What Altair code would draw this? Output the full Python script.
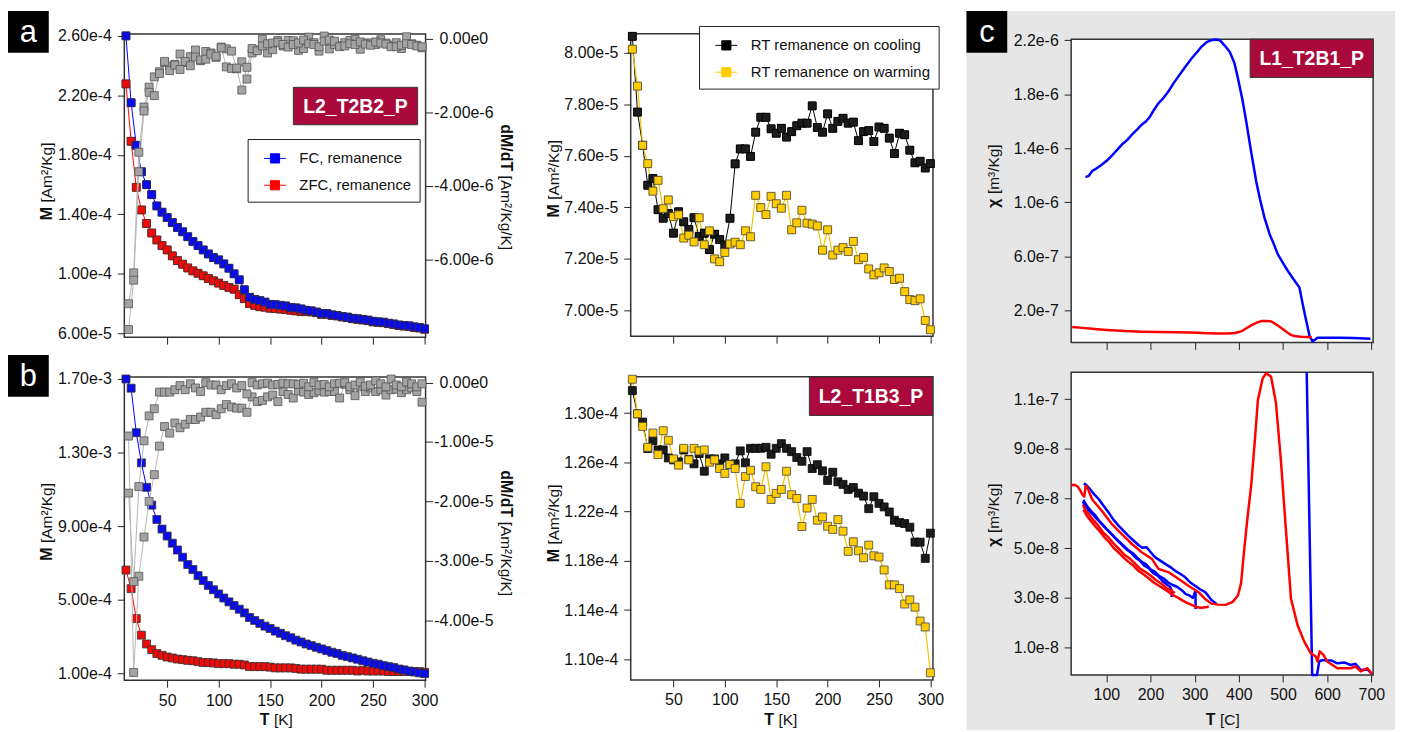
import altair as alt
import pandas as pd

FONT = "Liberation Sans, Arial, sans-serif"
FONT_W = "Liberation Sans, Arial, sans-serif"
FS = 16
FS_LEG = 15

# ---------------- data ----------------
T_K = [10, 15, 20, 25, 30, 35, 40, 45, 50, 55, 60, 65, 70, 75, 80, 85, 90, 95, 100, 105,
       110, 115, 120, 125, 130, 135, 140, 145, 150, 155, 160, 165, 170, 175, 180, 185, 190, 195, 200, 205,
       210, 215, 220, 225, 230, 235, 240, 245, 250, 255, 260, 265, 270, 275, 280, 285, 290, 295, 300]
T_D = [12.5, 17.5, 22.5, 27.5, 32.5, 37.5, 42.5, 47.5, 52.5, 57.5, 62.5, 67.5, 72.5, 77.5, 82.5, 87.5,
       92.5, 97.5, 102.5, 107.5, 112.5, 117.5, 122.5, 127.5, 132.5, 137.5, 142.5, 147.5, 152.5, 157.5,
       162.5, 167.5, 172.5, 177.5, 182.5, 187.5, 192.5, 197.5, 202.5, 207.5, 212.5, 217.5, 222.5, 227.5,
       232.5, 237.5, 242.5, 247.5, 252.5, 257.5, 262.5, 267.5, 272.5, 277.5, 282.5, 287.5, 292.5, 297.5]

# panel a  (M in 1e-4 Am2/kg, dM/dT in 1e-6)
A_FC = [2.60, 2.15, 1.864, 1.686, 1.599, 1.532, 1.456, 1.414, 1.378, 1.344, 1.311, 1.282, 1.249, 1.217, 1.189,
        1.160, 1.133, 1.108, 1.093, 1.066, 1.037, 0.999, 0.959, 0.892, 0.841, 0.827, 0.819, 0.809, 0.794, 0.792,
        0.787, 0.783, 0.772, 0.770, 0.763, 0.754, 0.750, 0.742, 0.732, 0.732, 0.723, 0.719, 0.712, 0.708, 0.700,
        0.697, 0.692, 0.688, 0.680, 0.676, 0.674, 0.667, 0.662, 0.655, 0.651, 0.649, 0.642, 0.638, 0.629]
A_ZFC = [2.277, 1.891, 1.581, 1.429, 1.338, 1.274, 1.227, 1.189, 1.160, 1.120, 1.088, 1.064, 1.039, 1.019, 1.003,
         0.986, 0.968, 0.952, 0.937, 0.921, 0.908, 0.896, 0.859, 0.832, 0.799, 0.787, 0.778, 0.775, 0.768, 0.766,
         0.762, 0.760, 0.754, 0.750, 0.745, 0.745, 0.743, 0.738, 0.727, 0.728, 0.720, 0.716, 0.709, 0.705, 0.697,
         0.693, 0.689, 0.684, 0.676, 0.673, 0.670, 0.664, 0.659, 0.652, 0.648, 0.646, 0.639, 0.635, 0.627]
A_D1 = [-7.21, -6.37, -3.09, -1.86, -1.32, -1.04, -0.90, -0.65, -0.75, -0.70, -0.42, -0.65, -0.49, -0.31, -0.60,
        -0.35, -0.39, -0.51, -0.23, -0.28, -0.34, -0.82, -0.63, -1.10, -0.39, -0.31, -0.02, -0.39, -0.30, -0.05,
        -0.20, -0.05, -0.06, -0.32, -0.27, 0.04, -0.11, -0.34, 0.07, -0.28, -0.16, -0.19, -0.11, -0.05, -0.02,
        -0.29, -0.12, -0.12, -0.16, -0.03, -0.12, -0.18, -0.11, -0.27, 0.05, -0.14, -0.18, -0.25]
A_D2 = [-7.91, -6.57, -3.62, -1.97, -1.46, -1.55, -0.95, -0.62, -0.87, -0.72, -0.84, -0.62, -0.74, -0.50, -0.58,
        -0.56, -0.42, -0.48, -0.25, -0.77, -0.81, -0.80, -1.40, -0.78, -0.27, -0.33, -0.20, -0.14, -0.12, -0.10,
        -0.16, -0.23, -0.16, -0.12, -0.04, -0.14, -0.16, -0.22, -0.07, -0.04, -0.07, -0.22, -0.20, -0.14, -0.16,
        -0.09, -0.15, -0.18, -0.09, -0.12, -0.15, -0.22, -0.22, -0.18, -0.14, -0.16, -0.20, -0.22]

# panel b  (M in 1e-4, dM/dT in 1e-5)
B_FC = [17.0, 16.50, 14.08, 12.44, 11.11, 10.14, 9.36, 8.84, 8.46, 8.07, 7.70, 7.31, 6.91, 6.64, 6.31, 6.04,
        5.77, 5.54, 5.31, 5.09, 4.88, 4.68, 4.48, 4.28, 4.03, 3.87, 3.71, 3.56, 3.43, 3.29, 3.17, 3.04, 2.93,
        2.80, 2.70, 2.59, 2.50, 2.41, 2.32, 2.23, 2.14, 2.07, 1.97, 1.90, 1.83, 1.76, 1.68, 1.61, 1.54, 1.49,
        1.41, 1.36, 1.31, 1.23, 1.18, 1.12, 1.07, 1.02, 0.98]
B_ZFC = [6.61, 5.60, 3.97, 3.07, 2.59, 2.28, 2.07, 1.97, 1.88, 1.83, 1.77, 1.74, 1.70, 1.68, 1.63, 1.58, 1.58,
         1.56, 1.52, 1.52, 1.52, 1.49, 1.49, 1.45, 1.36, 1.36, 1.36, 1.36, 1.33, 1.29, 1.29, 1.29, 1.29, 1.26,
         1.22, 1.22, 1.22, 1.22, 1.22, 1.16, 1.16, 1.16, 1.16, 1.16, 1.16, 1.12, 1.16, 1.12, 1.12, 1.12, 1.12,
         1.09, 1.09, 1.09, 1.09, 1.09, 1.09, 1.09, 1.05]
B_D1 = [-0.90, -4.88, -3.26, -2.60, -2.00, -1.55, -1.07, -0.74, -0.85, -0.68, -0.76, -0.70, -0.62, -0.62, -0.58,
        -0.50, -0.50, -0.54, -0.44, -0.37, -0.41, -0.43, -0.43, -0.50, -0.24, -0.32, -0.30, -0.24, -0.21, -0.32,
        -0.15, -0.20, -0.26, -0.14, -0.16, -0.20, -0.17, -0.14, -0.16, -0.15, -0.15, -0.26, -0.03, -0.12, -0.22,
        -0.07, -0.15, -0.09, -0.15, -0.12, -0.21, -0.12, -0.11, -0.17, -0.12, -0.09, -0.15, -0.33]
B_D2 = [-1.86, -3.35, -1.75, -0.98, -0.56, -0.44, -0.16, -0.16, -0.16, -0.12, -0.05, -0.12, -0.02, -0.09, -0.15,
        0.00, -0.04, -0.04, -0.12, -0.05, -0.02, -0.09, -0.05, -0.19, 0.00, -0.04, -0.02, -0.01, -0.04, -0.03,
        -0.01, -0.02, -0.02, -0.03, -0.01, -0.07, 0.00, -0.04, -0.03, -0.07, -0.02, -0.01, 0.00, -0.07, -0.04,
        0.01, -0.06, -0.04, 0.03, -0.02, -0.07, 0.06, -0.04, -0.07, 0.01, -0.02, -0.07, -0.02]

# middle top (1e-5) and middle bottom (1e-4)
MT_COOL = [8.064, 7.770, 7.641, 7.486, 7.512, 7.391, 7.358, 7.376, 7.300, 7.383, 7.344, 7.314, 7.360, 7.287,
           7.300, 7.236, 7.296, 7.275, 7.254, 7.358, 7.569, 7.627, 7.627, 7.598, 7.692, 7.750, 7.750, 7.705,
           7.688, 7.707, 7.673, 7.694, 7.717, 7.727, 7.727, 7.794, 7.710, 7.692, 7.763, 7.707, 7.734, 7.746,
           7.727, 7.731, 7.659, 7.694, 7.698, 7.656, 7.712, 7.707, 7.669, 7.609, 7.688, 7.682, 7.622, 7.573,
           7.579, 7.553, 7.570]
MT_WARM = [8.014, 7.871, 7.641, 7.570, 7.463, 7.505, 7.395, 7.429, 7.364, 7.371, 7.281, 7.292, 7.266, 7.360,
           7.255, 7.309, 7.200, 7.189, 7.225, 7.258, 7.265, 7.255, 7.309, 7.286, 7.447, 7.399, 7.372, 7.443,
           7.414, 7.397, 7.447, 7.313, 7.340, 7.389, 7.339, 7.335, 7.328, 7.234, 7.313, 7.215, 7.234, 7.244,
           7.229, 7.268, 7.197, 7.206, 7.161, 7.138, 7.146, 7.165, 7.151, 7.120, 7.125, 7.073, 7.042, 7.038,
           7.045, 6.961, 6.925]
MB_COOL = [1.3183, 1.2994, 1.2927, 1.2712, 1.2776, 1.2701, 1.2701, 1.2636, 1.2620, 1.2604, 1.2701, 1.2624,
           1.2588, 1.2671, 1.2528, 1.2628, 1.2628, 1.2588, 1.2636, 1.2581, 1.2588, 1.2693, 1.2596, 1.2714,
           1.2714, 1.2714, 1.2722, 1.2666, 1.2714, 1.2752, 1.2714, 1.2687, 1.2639, 1.2609, 1.2687, 1.2550,
           1.2581, 1.2531, 1.2453, 1.2520, 1.2442, 1.2421, 1.2380, 1.2396, 1.2350, 1.2326, 1.2224, 1.2321,
           1.2267, 1.2238, 1.2197, 1.2130, 1.2111, 1.2103, 1.2073, 1.1952, 1.1952, 1.1820, 1.2025]
MB_WARM = [1.3275, 1.2994, 1.2892, 1.2722, 1.2838, 1.2663, 1.2857, 1.2779, 1.2628, 1.2577, 1.2714, 1.2620,
           1.2714, 1.2693, 1.2701, 1.2601, 1.2620, 1.2550, 1.2510, 1.2582, 1.2550, 1.2267, 1.2485, 1.2536,
           1.2402, 1.2380, 1.2564, 1.2299, 1.2348, 1.2380, 1.2528, 1.2337, 1.2307, 1.2079, 1.2229, 1.2299,
           1.2130, 1.2157, 1.2081, 1.2055, 1.2135, 1.2041, 1.1877, 1.1955, 1.1882, 1.1825, 1.1928, 1.1841,
           1.1831, 1.1726, 1.1605, 1.1605, 1.1575, 1.1449, 1.1483, 1.1424, 1.1311, 1.1263, 1.0891]

# panel c top (chi in 1e-7)
CT_BLUE_T = [52.7, 60, 67.6, 80, 90, 100, 112.6, 125, 135, 147, 157.7, 170, 180, 190, 199, 208, 218, 230, 240.3,
             252, 262.8, 278, 292.8, 305, 315.3, 327, 337.9, 347, 356.8, 368, 379.3, 390, 398, 408, 416.7, 428,
             439.2, 448, 458, 470, 478, 488, 500, 510.6, 525, 537, 544.4, 550, 555.6, 560, 566.9, 578, 600, 630,
             660, 698]
CT_BLUE_X = [11.86, 11.95, 12.30, 12.55, 12.79, 13.05, 13.46, 13.90, 14.27, 14.60, 15.00, 15.40, 15.74, 16.00,
             16.35, 16.85, 17.33, 17.75, 18.19, 18.80, 19.30, 20.00, 20.64, 21.10, 21.51, 21.85, 22.00, 22.05,
             22.00, 21.60, 21.14, 20.30, 19.17, 17.60, 15.98, 13.70, 11.56, 10.20, 8.86, 7.60, 7.00, 6.16, 5.50,
             4.93, 4.25, 3.70, 2.48, 1.60, 0.76, 0.10, -0.30, -0.03, -0.03, -0.03, -0.05, -0.10]
CT_RED_T = [22.6, 45, 67.6, 100, 142.8, 180, 217.9, 255, 293, 330, 353, 375, 390.6, 398, 405.6, 416, 428, 440,
            450.6, 462, 473, 480, 488, 500, 510.6, 518, 525.7, 540, 555.6, 565]
CT_RED_X = [0.76, 0.70, 0.64, 0.55, 0.46, 0.42, 0.39, 0.37, 0.35, 0.30, 0.28, 0.29, 0.32, 0.38, 0.44, 0.65, 0.88,
            1.08, 1.20, 1.21, 1.18, 1.05, 0.88, 0.60, 0.34, 0.18, 0.09, 0.04, 0.02, -0.02]

# panel c bottom (chi in 1e-8)
CB_RED_MAIN_T = [20.3, 28, 34, 40, 46, 50, 53, 57, 67.6, 90, 112.6, 135, 158, 180, 203, 218, 240, 263, 285, 308,
                 323, 338, 353, 370, 386, 398, 405, 413, 420, 428, 436, 443, 454, 462, 473, 484, 495, 507, 518,
                 533, 548, 563, 574, 578, 583, 592, 600, 623, 653, 664, 676, 691, 702]
CB_RED_MAIN_X = [7.53, 7.55, 7.50, 7.35, 7.15, 7.08, 7.50, 7.45, 6.97, 6.50, 5.97, 5.57, 5.17, 4.84, 4.57, 4.17,
                 4.04, 3.77, 3.50, 3.24, 2.97, 2.77, 2.73, 2.72, 2.84, 3.10, 3.60, 5.10, 6.30, 7.55, 9.30, 10.95,
                 11.84, 12.04, 11.90, 10.84, 8.57, 5.64, 2.97, 1.90, 1.24, 0.77, 0.64, 0.45, 0.85, 0.70, 0.44,
                 0.17, 0.17, 0.24, 0.04, 0.17, -0.07]
CB_BLUE_MAIN_T = [702, 691, 676, 664, 653, 640, 623, 610, 600, 590, 582, 577, 566, 553.6]
CB_BLUE_MAIN_X = [-0.07, 0.12, 0.10, 0.35, 0.30, 0.40, 0.37, 0.48, 0.48, 0.50, 0.45, -0.10, -0.10, 12.08]
CB_BLUE_UP_T = [349, 343, 338, 330, 323, 312, 300, 290, 278, 266, 255, 244, 233, 222, 210, 200, 191, 182, 173, 162,
                150, 139, 128, 116, 105, 94, 83, 71, 60, 54, 49]
CB_BLUE_UP_X = [2.77, 2.85, 2.92, 3.10, 3.24, 3.35, 3.50, 3.62, 3.84, 3.98, 4.10, 4.25, 4.37, 4.50, 4.64, 4.85,
                5.04, 5.02, 5.12, 5.30, 5.50, 5.70, 5.90, 6.15, 6.44, 6.70, 6.97, 7.20, 7.44, 7.55, 7.61]
CB_RED_LOW1_T = [48, 56, 64, 74, 84, 95, 106, 117, 128, 139, 150, 161, 173, 184, 195, 207, 218, 229, 240, 252, 263,
                 274, 285, 296, 305, 315, 325, 332]
CB_RED_LOW1_X = [6.55, 6.30, 6.12, 5.90, 5.70, 5.45, 5.25, 5.00, 4.82, 4.62, 4.45, 4.30, 4.08, 3.95, 3.80, 3.62,
                 3.50, 3.38, 3.25, 3.10, 3.00, 2.88, 2.78, 2.70, 2.62, 2.60, 2.62, 2.66]
CB_RED_LOW2_T = [47, 52, 60, 70, 80, 92, 104, 116, 128, 140, 152, 164, 176, 188, 200, 212, 224, 236, 248, 255]
CB_RED_LOW2_X = [6.75, 6.55, 6.38, 6.15, 5.95, 5.65, 5.45, 5.20, 4.98, 4.75, 4.60, 4.40, 4.18, 4.05, 3.90, 3.72,
                 3.58, 3.40, 3.28, 3.20]
CB_BLUE_LOW1_T = [302, 302, 296, 288, 280, 270, 260, 250, 240, 230, 220, 210, 200, 190, 180, 170, 160, 150, 140,
                  130, 120, 110, 100, 90, 80, 70, 60, 50, 47]
CB_BLUE_LOW1_X = [2.55, 3.30, 3.00, 3.10, 3.15, 3.32, 3.45, 3.52, 3.62, 3.78, 3.88, 4.05, 4.15, 4.35, 4.45, 4.62,
                  4.80, 4.92, 5.08, 5.25, 5.40, 5.60, 5.78, 5.98, 6.15, 6.35, 6.52, 6.75, 6.88]
CB_BLUE_LOW2_T = [248, 248, 244, 236, 226, 216, 206, 196, 186, 176, 166, 156, 146, 136, 126, 116, 106, 96, 86, 76,
                  66, 56, 48]
CB_BLUE_LOW2_X = [3.04, 3.30, 3.45, 3.55, 3.70, 3.90, 4.00, 4.20, 4.30, 4.50, 4.62, 4.82, 4.95, 5.12, 5.30, 5.50,
                  5.68, 5.85, 6.05, 6.30, 6.48, 6.70, 6.95]

SER_A = ["FC, remanence", "ZFC, remanence"]
SER_M = ["RT remanence on cooling", "RT remanence on warming"]

# tick values / labels
XT_K = [50, 100, 150, 200, 250, 300]
XT_C = [100, 200, 300, 400, 500, 600, 700]
YT = {
    "A": ([6e-5, 1e-4, 1.4e-4, 1.8e-4, 2.2e-4, 2.6e-4], ["6.00e-5", "1.00e-4", "1.40e-4", "1.80e-4", "2.20e-4", "2.60e-4"]),
    "B": ([1e-4, 5e-4, 9e-4, 1.3e-3, 1.7e-3], ["1.00e-4", "5.00e-4", "9.00e-4", "1.30e-3", "1.70e-3"]),
    "MT": ([7.0e-5, 7.2e-5, 7.4e-5, 7.6e-5, 7.8e-5, 8.0e-5], ["7.00e-5", "7.20e-5", "7.40e-5", "7.60e-5", "7.80e-5", "8.00e-5"]),
    "MB": ([1.10e-4, 1.14e-4, 1.18e-4, 1.22e-4, 1.26e-4, 1.30e-4], ["1.10e-4", "1.14e-4", "1.18e-4", "1.22e-4", "1.26e-4", "1.30e-4"]),
    "CT": ([2e-7, 6e-7, 1.0e-6, 1.4e-6, 1.8e-6, 2.2e-6], ["2.0e-7", "6.0e-7", "1.0e-6", "1.4e-6", "1.8e-6", "2.2e-6"]),
    "CB": ([1e-8, 3e-8, 5e-8, 7e-8, 9e-8, 1.1e-7], ["1.0e-8", "3.0e-8", "5.0e-8", "7.0e-8", "9.0e-8", "1.1e-7"]),
}
RT = {
    "A": ([-6e-6, -4e-6, -2e-6, 0.0], ["-6.00e-6", "-4.00e-6", "-2.00e-6", "0.00e0"]),
    "B": ([-4e-5, -3e-5, -2e-5, -1e-5, 0.0], ["-4.00e-5", "-3.00e-5", "-2.00e-5", "-1.00e-5", "0.00e0"]),
}

# ---------------- layout (pixel geometry of panels) ----------------
W, H = 1395, 724
P = {
    "A": dict(xd=[8.4, 301.0], xr=[117.0, 420.0], yd=[0.573e-4, 2.613e-4], yr=[329.0, 24.0], rd=[-8.12e-6, 0.127e-6],
              xoff=-395, yoff=-117, xlab=False),
    "B": dict(xd=[8.4, 301.0], xr=[117.0, 420.0], yd=[0.62e-4, 17.11e-4], yr=[674.0, 369.0], rd=[-5.01e-5, 0.095e-5],
              xoff=-50, yoff=-117, xlab=True),
    "MT": dict(xd=[8.4, 302.5], xr=[626.3, 930.3], yd=[6.90e-5, 8.0745e-5], yr=[328.0, 23.7],
               xoff=-396, yoff=-626.3, xlab=False),
    "MB": dict(xd=[8.4, 302.5], xr=[626.3, 930.3], yd=[1.0833e-4, 1.3296e-4], yr=[673.7, 368.7],
               xoff=-50.3, yoff=-626.3, xlab=True),
    "CT": dict(xd=[20.3, 704.0], xr=[1069.3, 1373.0], yd=[-0.38e-7, 22.07e-7], yr=[334.3, 29.3],
               xoff=-389.7, yoff=-1069.3, xlab=False),
    "CB": dict(xd=[20.3, 704.0], xr=[1069.3, 1373.0], yd=[-0.1e-8, 12.08e-8], yr=[668.7, 364.3],
               xoff=-55.3, yoff=-1069.3, xlab=True),
}

BLUE, RED = "#0000ff", "#ff0000"
BLUE_F, RED_F = "#0a0af0", "#f00a0a"
GRAY_L, GRAY_F = "#b5b5b5", "#a3a3a3"
YEL_L, YEL_F = "#f2c200", "#ffcc00"
CRIMSON = "#a90a3b"


def label_expr(vals, labs):
    pairs = sorted(zip(vals, labs))
    expr = repr(pairs[-1][1])
    for i in range(len(pairs) - 2, -1, -1):
        mid = (pairs[i][0] + pairs[i + 1][0]) / 2.0
        expr = f"datum.value < {mid!r} ? {pairs[i][1]!r} : ({expr})"
    return expr


def axis(**kw):
    base = dict(title=None, grid=False, domain=False, ticks=True, tickSize=7, tickWidth=1, tickColor="#222222",
                labelFont=FONT, labelFontSize=FS, labelColor="#111111", labelOverlap=False, labelFlush=False,
                zindex=1)
    base.update(kw)
    return alt.Axis(**base)


def xscale(p):
    return alt.Scale(domain=P[p]["xd"], range=P[p]["xr"], nice=False, zero=False)


def yscale(p, key="yd"):
    return alt.Scale(domain=P[p][key], range=P[p]["yr"], nice=False, zero=False)


def X(p, field="T", ax=None):
    return alt.X(f"{field}:Q", scale=xscale(p), axis=ax)


def Y(p, field="v", key="yd", ax=None):
    return alt.Y(f"{field}:Q", scale=yscale(p, key), axis=ax)


def df_of(ts, vs, factor):
    return pd.DataFrame({"T": ts, "v": [a * factor for a in vs], "i": list(range(len(ts)))})


ONE = pd.DataFrame({"k": [0]})


def rect_v(x, x2, y, y2, fill, stroke=None, sw=0):
    kw = dict(fill=fill)
    if stroke:
        kw.update(stroke=stroke, strokeWidth=sw)
    return alt.Chart(ONE).mark_rect(**kw).encode(x=alt.value(x), x2=alt.value(x2), y=alt.value(y), y2=alt.value(y2))


def text_v(txt, x, y, angle=0, align="left", baseline="alphabetic", weight="normal", size=FS, color="#111111",
           font=FONT, dx=0):
    return alt.Chart(ONE).mark_text(text=txt, angle=angle, align=align, baseline=baseline, fontWeight=weight,
                                    fontSize=size, color=color, font=font, dx=dx).encode(
        x=alt.value(x), y=alt.value(y))


def frame(p):
    d = P[p]
    df = pd.DataFrame({"x0": [d["xd"][0]], "x1": [d["xd"][1]], "y0": [d["yd"][0]], "y1": [d["yd"][1]]})
    xt = XT_C if p.startswith("C") else XT_K
    xax = axis(orient="bottom", offset=d["xoff"], values=xt, labels=d["xlab"], labelPadding=5)
    yv, yl = YT[p]
    yax = axis(orient="left", offset=d["yoff"], values=yv, labelExpr=label_expr(yv, yl), labelPadding=6)
    return alt.Chart(df).mark_rect(fill="white", stroke="#333333", strokeWidth=1.5).encode(
        x=alt.X("x0:Q", scale=xscale(p), axis=xax), x2="x1:Q",
        y=alt.Y("y0:Q", scale=yscale(p), axis=yax), y2="y1:Q")


def line(df, p, color, sw=1.0, key="yd", ax=None, ordered=False):
    enc = dict(x=X(p), y=Y(p, key=key, ax=ax))
    if ordered:
        enc["order"] = alt.Order("i:Q")
    return alt.Chart(df).mark_line(color=color, strokeWidth=sw, strokeJoin="round").encode(**enc)


def squares(df, p, fill, stroke="#333333", key="yd"):
    return alt.Chart(df).mark_square(size=64, fill=fill, stroke=stroke, strokeWidth=0.8, opacity=1).encode(
        x=X(p), y=Y(p, key=key))


SYM = "M-1,0L-0.42,0M0.42,0L1,0M-0.42,-0.42L0.42,-0.42L0.42,0.42L-0.42,0.42Z"


def legend(x, y):
    return alt.Legend(orient="none", legendX=x, legendY=y, title=None, symbolType=SYM, symbolSize=484,
                      symbolFillColor="white", symbolStrokeWidth=1, strokeColor="#222222", fillColor="white",
                      padding=8, symbolOffset=8, rowPadding=7, labelOffset=13, labelFont=FONT,
                      labelFontSize=FS_LEG, labelColor="#111111", labelLimit=400)


def legend_layer(df, p, domain, colors, lx, ly):
    lg = legend(lx, ly)
    sc = alt.Scale(domain=domain, range=colors)
    return alt.Chart(df).mark_point(shape="square", filled=False, size=56, strokeWidth=1, opacity=1).encode(
        x=X(p), y=Y(p),
        color=alt.Color("series:N", scale=sc, legend=lg),
        fill=alt.Fill("series:N", scale=sc, legend=lg))


layers = []
# grey background of panel c
layers.append(rect_v(964, W, 1, H, "#e6e6e6"))
# frames with left/bottom axes
for p in ["A", "B", "MT", "MB", "CT", "CB"]:
    layers.append(frame(p))

# ---- panels a and b ----
for p, fc, zfc, d1, d2, f1, f2 in [("A", A_FC, A_ZFC, A_D1, A_D2, 1e-4, 1e-6),
                                    ("B", B_FC, B_ZFC, B_D1, B_D2, 1e-4, 1e-5)]:
    dfc = df_of(T_K, fc, f1)
    dzf = df_of(T_K, zfc, f1)
    dd1 = df_of(T_D, d1, f2)
    dd2 = df_of(T_D, d2, f2)
    rv, rl = RT[p]
    rax = axis(orient="right", offset=-975, values=rv, labelExpr=label_expr(rv, rl), labelAlign="center",
               labelPadding=31)
    layers += [line(dzf, p, RED), line(dfc, p, BLUE)]
    if p == "A":
        both = pd.concat([dfc.assign(series=SER_A[0]), dzf.assign(series=SER_A[1])], ignore_index=True)
        layers.append(legend_layer(both, p, SER_A, [BLUE, RED], 241, 129.7))
    layers += [squares(dzf, p, RED_F), squares(dfc, p, BLUE_F)]
    layers += [line(dd1, p, GRAY_L, key="rd", ax=rax), line(dd2, p, GRAY_L, key="rd")]
    layers += [squares(dd1, p, GRAY_F, "#555555", key="rd"), squares(dd2, p, GRAY_F, "#555555", key="rd")]

# ---- middle panels ----
for p, cool, warm, f in [("MT", MT_COOL, MT_WARM, 1e-5), ("MB", MB_COOL, MB_WARM, 1e-4)]:
    dc = df_of(T_K, cool, f)
    dw = df_of(T_K, warm, f)
    layers += [line(dc, p, "#000000"), line(dw, p, YEL_L, sw=1.2)]
    if p == "MT":
        both = pd.concat([dc.assign(series=SER_M[0]), dw.assign(series=SER_M[1])], ignore_index=True)
        layers.append(legend_layer(both, p, SER_M, ["#000000", YEL_F], 695, 16))
    layers += [squares(dc, p, "#1c1c1c", "#000000"), squares(dw, p, YEL_F, "#444444")]

# ---- panel c ----
layers.append(line(df_of(CT_BLUE_T, CT_BLUE_X, 1e-7), "CT", BLUE, sw=2.5, ordered=True))
layers.append(line(df_of(CT_RED_T, CT_RED_X, 1e-7), "CT", RED, sw=2.5, ordered=True))
for ts, vs in [(CB_BLUE_MAIN_T, CB_BLUE_MAIN_X), (CB_BLUE_UP_T, CB_BLUE_UP_X),
               (CB_BLUE_LOW1_T, CB_BLUE_LOW1_X), (CB_BLUE_LOW2_T, CB_BLUE_LOW2_X)]:
    layers.append(line(df_of(ts, vs, 1e-8), "CB", BLUE, sw=2.5, ordered=True))
for ts, vs in [(CB_RED_LOW1_T, CB_RED_LOW1_X), (CB_RED_LOW2_T, CB_RED_LOW2_X),
               (CB_RED_MAIN_T, CB_RED_MAIN_X)]:
    layers.append(line(df_of(ts, vs, 1e-8), "CB", RED, sw=2.5, ordered=True))

# ---- axis titles (bold symbol + normal unit) ----
for x, y, sym, unit in [(44, 198, "M", "[Am²/Kg]"), (44, 540.5, "M", "[Am²/Kg]"),
                        (554, 195.3, "M", "[Am²/Kg]"), (554, 542, "M", "[Am²/Kg]"),
                        (997, 189.5, "χ", "[m³/Kg]"), (997, 530.5, "χ", "[m³/Kg]")]:
    layers.append(text_v(sym, x, y, angle=270, align="right", weight="bold", size=16))
    layers.append(text_v(unit, x, y, angle=270, align="left", dx=4.5, size=15.5))
for y in [162, 510]:
    layers.append(text_v("dM/dT", 496, y, angle=90, align="right", weight="bold", size=16))
    layers.append(text_v("[Am²/Kg/K]", 496, y, angle=90, align="left", dx=4.5, size=15.5))
for x, unit in [(263, "[K]"), (770.5, "[K]"), (1214.5, "[C]")]:
    layers.append(text_v("T", x, 719, align="right", weight="bold", size=16))
    layers.append(text_v(unit, x, 719, align="left", dx=4.5, size=15.5))

# ---- sample labels ----
for x0, x1, y0, y1, txt in [(287, 412, 77.7, 115.3, "L2_T2B2_P"), (806, 930, 369, 407.7, "L2_T1B3_P"),
                            (1249.3, 1373, 29.3, 67.7, "L1_T2B1_P")]:
    layers.append(rect_v(x0, x1, y0, y1, CRIMSON, "#333333", 1))
    layers.append(text_v(txt, (x0 + x1) / 2, (y0 + y1) / 2 + 1, align="center", baseline="middle",
                         weight="bold", size=19.5, color="white"))

# ---- panel letters ----
for x0, y0, ch in [(0, 1, "a"), (0, 347, "b"), (964, 1, "c")]:
    layers.append(rect_v(x0, x0 + 41, y0, y0 + 42, "#000000"))
    layers.append(text_v(ch, x0 + 20.5, y0 + 31, align="center", baseline="alphabetic", size=31,
                         color="white", font=FONT_W))

chart = (alt.layer(*layers)
         .resolve_scale(x="independent", y="independent", color="independent", fill="independent")
         .resolve_legend(color="independent", fill="independent")
         .properties(width=W, height=H, autosize=alt.AutoSizeParams(type="none"), padding=0,
                     background="white")
         .configure_view(stroke=None))

chart.save("out.html", embed_options={"renderer": "svg", "actions": False})
